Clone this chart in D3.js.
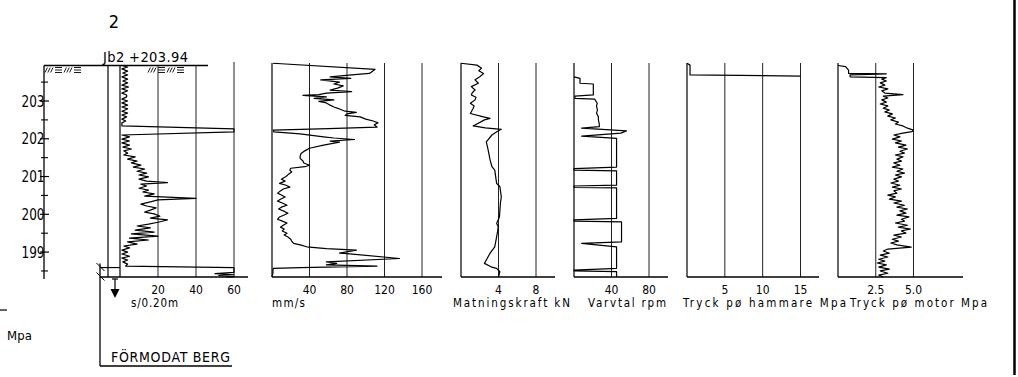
<!DOCTYPE html>
<html><head><meta charset="utf-8">
<script src="https://cdn.jsdelivr.net/npm/d3@7"></script>
<style>
body{margin:0;background:#fff}
svg{display:block}
text{font-family:"DejaVu Sans","Liberation Sans",sans-serif;font-stretch:condensed;fill:#000}
</style>
</head><body>
<svg id="c" width="1018" height="377"></svg>
<script>
// ---------- data ----------
const levelTicks = [199, 200, 201, 202, 203];
const levelMinor = [198.5, 199.5, 200.5, 201.5, 202.5, 203.5];
const topLevel = 203.94, bottomLevel = 198.34, rockLevels = [198.59, 198.34];

const sTicks = [20, 40, 60];
const vTicks = [40, 80, 120, 160];
const fTicks = [4, 8];
const rTicks = [40, 80];
const hTicks = [5, 10, 15];
const mTicks = [2.5, 5.0];

// s/0.20m  [level, value]
const sData = [[203.94,1],[203.90,4],[203.85,1],[203.79,4],[203.74,1.5],[203.69,4],[203.64,1],[203.58,4],[203.53,1.5],[203.48,4],[203.42,1],[203.37,4.5],[203.32,1],[203.27,4],[203.21,1],[203.16,3.5],[203.11,3.5],[203.05,1],[203.00,4],[202.95,1],[202.89,4],[202.84,1],[202.79,4],[202.73,1],[202.68,4],[202.63,1],[202.58,3.5],[202.52,1],[202.47,3],[202.42,1],[202.34,1],[202.26,60],[202.18,60],[202.10,1],[202.05,5],[201.99,1],[201.94,5],[201.89,1],[201.83,5],[201.78,1.5],[201.73,6],[201.68,2],[201.62,4],[201.57,2],[201.52,8],[201.46,4],[201.41,9],[201.36,6],[201.30,11],[201.25,7],[201.20,13],[201.14,9],[201.09,14],[201.04,10],[200.99,15],[200.93,10],[200.88,14],[200.84,25],[200.80,11],[200.75,14],[200.69,10],[200.64,15],[200.59,12],[200.54,18],[200.48,13],[200.42,40],[200.38,20],[200.33,16],[200.27,11],[200.22,14],[200.17,19],[200.11,16],[200.06,13],[200.01,18],[199.95,21],[199.90,16],[199.85,25],[199.79,20],[199.74,15],[199.69,9],[199.64,16],[199.58,8],[199.53,18],[199.48,6],[199.42,20],[199.37,5],[199.32,15],[199.27,4],[199.21,9],[199.16,2],[199.11,5],[199.05,1],[199.00,4],[198.95,1],[198.89,5],[198.84,1],[198.79,4],[198.74,1.5],[198.68,4],[198.63,3],[198.59,60],[198.46,60],[198.43,50],[198.40,60],[198.38,52],[198.35,60],[198.34,56]];

// mm/s
const vData = [[204.00,1],[203.84,110],[203.73,104],[203.69,85],[203.64,62],[203.60,84],[203.56,52],[203.50,72],[203.45,66],[203.40,76],[203.34,70],[203.29,62],[203.25,85],[203.21,58],[203.17,50],[203.15,33],[203.11,58],[203.07,45],[203.03,66],[202.99,50],[202.95,58],[202.89,62],[202.84,66],[202.79,72],[202.73,78],[202.70,90],[202.66,80],[202.62,78],[202.58,94],[202.52,100],[202.47,108],[202.42,113],[202.37,109],[202.31,112],[202.27,60],[202.23,1.4],[202.18,2],[202.13,30],[202.05,55],[202.02,66],[201.98,88],[201.94,62],[201.91,72],[201.83,55],[201.75,40],[201.68,35],[201.61,31],[201.54,30],[201.48,30],[201.41,33],[201.36,34],[201.30,40],[201.26,35],[201.22,20],[201.17,19],[201.12,21],[201.07,18],[201.00,15],[200.93,10],[200.88,14],[200.82,8],[200.77,15],[200.72,19],[200.67,12],[200.62,9],[200.56,6],[200.51,10],[200.46,14],[200.40,9],[200.35,6],[200.30,11],[200.24,16],[200.19,10],[200.14,7],[200.09,12],[200.03,17],[199.98,13],[199.93,8],[199.87,6],[199.82,11],[199.77,16],[199.71,12],[199.66,9],[199.61,13],[199.56,11],[199.50,16],[199.45,13],[199.40,17],[199.34,20],[199.29,21],[199.23,23],[199.19,30],[199.14,37],[199.09,58],[199.05,90],[198.97,72],[198.96,80],[198.83,136],[198.74,58],[198.70,69],[198.66,58],[198.63,112],[198.59,30],[198.57,1.4],[198.52,1],[198.44,1],[198.34,0]];

// Matningskraft kN
const fData = [[204.00,0],[203.95,1.7],[203.87,2.2],[203.80,1.9],[203.73,2.4],[203.64,2.0],[203.56,1.5],[203.47,1.85],[203.38,1.1],[203.29,1.5],[203.22,1.2],[203.16,1.1],[203.10,1.6],[203.03,1.5],[202.94,1.0],[202.87,1.4],[202.81,1.3],[202.67,1.0],[202.58,2.4],[202.54,3.1],[202.50,2.5],[202.34,1.3],[202.29,2.6],[202.25,4.3],[202.20,3.9],[202.10,3.3],[201.92,2.7],[201.70,2.9],[201.44,3.1],[201.26,3.3],[201.17,3.6],[200.82,3.8],[200.73,4.15],[200.46,4.3],[200.29,4.2],[200.11,4.15],[199.93,4.1],[199.76,3.8],[199.67,3.97],[199.54,3.9],[199.40,3.8],[199.14,3.6],[198.97,3.1],[198.79,2.7],[198.70,2.5],[198.61,3.2],[198.57,3.8],[198.48,4.15],[198.34,4.0]];

// Varvtal rpm
const rData = [[203.64,0],[203.60,6.4],[203.47,6.4],[203.45,20.6],[203.16,20.6],[203.13,1],[203.07,1],[203.05,22],[202.94,24.8],[202.87,24],[202.76,25],[202.68,24],[202.58,26],[202.50,26],[202.39,27],[202.32,27],[202.28,8.2],[202.21,56],[202.15,50],[202.07,8.2],[202.01,45.4],[201.25,45.4],[201.21,0],[201.17,0],[201.15,45.4],[200.77,45.4],[200.75,0],[200.71,0],[200.70,45.4],[199.89,45.4],[199.85,0],[199.82,0],[199.80,50.7],[199.27,50.7],[199.23,8.2],[199.14,45.4],[198.57,45.4],[198.52,0],[198.50,0],[198.48,45.4],[198.34,45.4]];

// Tryck på hammare MPa
const hData = [[204.00,0],[203.95,0.4],[203.92,0.4],[203.69,0.4],[203.66,15]];

// Tryck på motor MPa
const mData = [[203.94,0.0],[203.91,0.5],[203.82,0.7],[203.73,0.7],[203.72,3.2],[203.69,0.8],[203.64,0.8],[203.62,3.2],[203.58,2.9],[203.53,3.2],[203.48,2.8],[203.42,3.1],[203.37,2.7],[203.32,3.3],[203.27,2.9],[203.21,3.1],[203.17,4.3],[203.13,3.0],[203.08,3.3],[203.03,2.9],[202.97,3.2],[202.92,2.8],[202.87,3.3],[202.81,3.0],[202.76,3.4],[202.71,3.1],[202.66,3.6],[202.60,3.3],[202.55,3.8],[202.50,3.5],[202.44,4.0],[202.39,3.8],[202.34,4.3],[202.28,4.6],[202.23,5.0],[202.19,4.9],[202.15,4.3],[202.10,3.7],[202.05,4.1],[201.99,3.6],[201.94,4.2],[201.89,3.8],[201.83,4.5],[201.78,4.0],[201.73,4.6],[201.67,4.1],[201.62,4.4],[201.57,3.8],[201.52,4.3],[201.46,3.9],[201.41,4.2],[201.36,3.7],[201.30,4.1],[201.25,3.6],[201.20,4.3],[201.14,3.9],[201.09,4.4],[201.04,3.8],[200.99,4.2],[200.93,3.7],[200.88,4.0],[200.83,3.5],[200.77,4.1],[200.72,3.6],[200.67,4.2],[200.62,3.7],[200.56,3.9],[200.51,3.3],[200.46,3.8],[200.40,3.4],[200.35,4.2],[200.30,3.7],[200.24,4.4],[200.19,3.9],[200.14,4.6],[200.09,4.1],[200.03,4.5],[199.98,3.9],[199.93,4.7],[199.87,4.2],[199.82,4.4],[199.77,3.8],[199.71,4.6],[199.66,4.0],[199.61,4.8],[199.56,4.2],[199.50,4.5],[199.45,3.7],[199.40,4.2],[199.34,3.6],[199.29,4.0],[199.24,3.5],[199.19,3.9],[199.13,4.85],[199.08,3.3],[199.03,3.0],[198.97,3.4],[198.92,2.8],[198.87,3.3],[198.81,2.7],[198.76,3.1],[198.71,2.6],[198.66,3.2],[198.60,2.7],[198.55,3.4],[198.50,2.8],[198.44,3.3],[198.39,2.7],[198.34,3.0]];

const titles = ["s/0.20m", "mm/s", "Matningskraft kN", "Varvtal rpm", "Tryck pø hammare Mpa", "Tryck pø motor Mpa"];

// ---------- drawing ----------
const svg = d3.select('#c');
const y = d3.scaleLinear().domain([topLevel, bottomLevel]).range([65.5, 277]);
const yTop = y(topLevel), yBot = y(bottomLevel);

function ln(x1, y1, x2, y2, w, c) {
  return svg.append('line').attr('x1', x1).attr('y1', y1).attr('x2', x2).attr('y2', y2)
    .attr('stroke', c || '#000').attr('stroke-width', w || 1).attr('stroke-linecap', 'butt');
}

// header
svg.append('text').attr('x', 114).attr('y', 28).attr('text-anchor', 'middle').attr('font-size', 18).text('2');
svg.append('text').attr('x', 103).attr('y', 62).attr('font-size', 14.5).attr('textLength', 85).attr('lengthAdjust', 'spacing').text('Jb2 +203.94');

// left depth axis
ln(44, yTop, 44, 279, 1.3);
ln(44, yTop, 208, yTop, 1.3);
levelTicks.forEach(t => {
  ln(40, y(t), 49, y(t), 1.2);
  svg.append('text').attr('x', 44.5).attr('y', y(t)).attr('dy', '0.36em').attr('text-anchor', 'end')
    .attr('font-size', 15.5).attr('textLength', 23).attr('lengthAdjust', 'spacingAndGlyphs').text(t);
});
levelMinor.filter(t => t < topLevel).forEach(t => ln(41, y(t), 48, y(t), 1.1));

// soil symbols
function soil(x0, y0) {
  const g = svg.append('g').attr('stroke', '#000').attr('stroke-width', 0.9);
  let x = x0;
  for (let k = 0; k < 2; k++) {
    for (let i = 0; i < 3; i++) { g.append('line').attr('x1', x + i * 2.8).attr('y1', y0 + 5).attr('x2', x + i * 2.8 + 2.4).attr('y2', y0); }
    x += 10;
    for (let i = 0; i < 3; i++) { g.append('line').attr('x1', x).attr('y1', y0 + i * 2.5).attr('x2', x + 7).attr('y2', y0 + i * 2.5); }
    x += 9;
  }
}
soil(45, 67.5);
soil(148, 67.5);

// panels
const panels = [
  {data: sData, ticks: sTicks, domain: [0, 60], range: [120, 234], base: [100, 248], title: titles[0], tx: 131, tw: 47, ty: 307},
  {data: vData, ticks: vTicks, domain: [0, 160], range: [272, 422], base: [272, 442], title: titles[1], tx: 272, tw: 33, ty: 306.5},
  {data: fData, ticks: fTicks, domain: [0, 8], range: [461, 536], base: [461, 555], title: titles[2], tx: 453, tw: 117, ty: 306.5},
  {data: rData, ticks: rTicks, domain: [0, 80], range: [574, 649], base: [574, 668], title: titles[3], tx: 588, tw: 78, ty: 306.5},
  {data: hData, ticks: hTicks, domain: [0, 15], range: [687, 800.5], base: [687, 819], title: titles[4], tx: 683, tw: 163, ty: 306.5},
  {data: mData, ticks: mTicks, domain: [0, 5], range: [838, 913.5], base: [838, 963], title: titles[5], tx: 850, tw: 137, ty: 306.5}
];

panels.forEach((p, i) => {
  const xs = d3.scaleLinear().domain(p.domain).range(p.range);
  const gTop = i === 0 ? yTop : 63;
  p.ticks.forEach(t => {
    const top = (i === 0 && t === 60) ? 62 : gTop;
    ln(xs(t), top, xs(t), yBot, 1, '#222');
    const lab = (i === 5) ? d3.format('.1f')(t) : t;
    svg.append('text').attr('x', xs(t)).attr('y', 293.5).attr('text-anchor', 'middle').attr('font-size', 12).text(lab);
  });
  ln(xs(0), gTop, xs(0), yBot, 1.2);
  ln(p.base[0], yBot, p.base[1], yBot, 1.3);
  svg.append('path').datum(p.data).attr('fill', 'none').attr('stroke', '#000').attr('stroke-width', 1.2)
    .attr('stroke-linejoin', 'round')
    .attr('d', d3.line().x(d => xs(d[1])).y(d => y(d[0])));
  svg.append('text').attr('x', p.tx).attr('y', p.ty).attr('font-size', 11.5)
    .attr('textLength', p.tw).attr('lengthAdjust', 'spacing').text(p.title);
});

// casing line
ln(108, yTop, 108, yBot, 1.2);

// arrow under s panel
ln(112, 279, 118, 279, 1.2);
ln(115, 279, 115, 290, 1.2);
svg.append('path').attr('d', 'M110.5,289 L119.5,289 L115,298 Z').attr('fill', '#000');

// rock markers
ln(100, y(rockLevels[0]) - 4, 100, 366, 1.3);
ln(100, 366, 232, 366, 1.3);
ln(100, y(rockLevels[0]), 120, y(rockLevels[0]), 1.2);
rockLevels.forEach(l => {
  ln(96.5, y(l) - 4.5, 104.5, y(l) + 3.5, 1);
});
svg.append('text').attr('x', 111).attr('y', 362).attr('font-size', 14).attr('textLength', 119)
  .attr('lengthAdjust', 'spacing').text('FÖRMODAT BERG');

// remnants of neighbouring sheet
ln(0, 310, 7, 310, 1.2);
svg.append('text').attr('x', 7).attr('y', 340).attr('font-size', 13).attr('textLength', 25).text('Mpa');

// sheet border
ln(1014.5, 0, 1014.5, 375, 2.5);
</script>
</body></html>
